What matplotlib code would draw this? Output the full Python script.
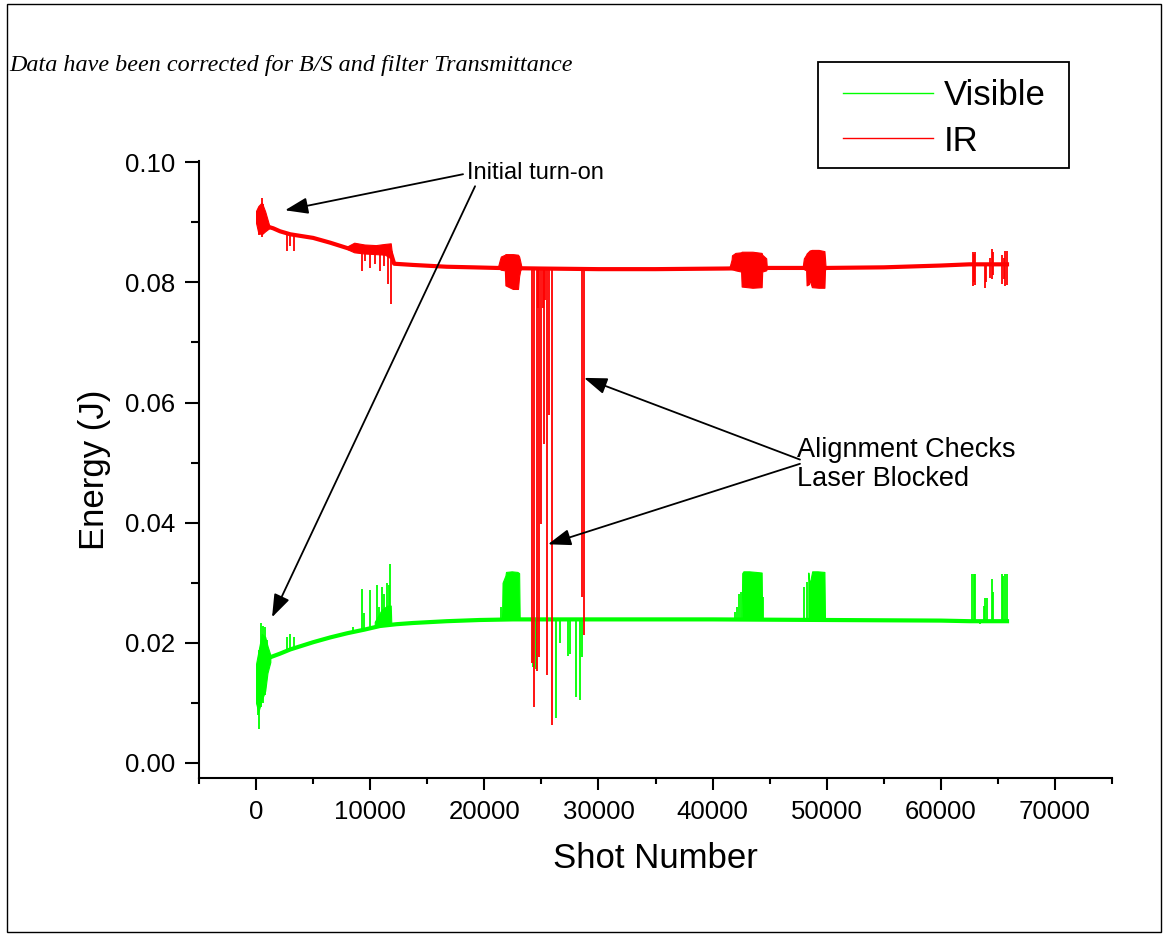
import matplotlib
matplotlib.use('Agg')
import matplotlib.pyplot as plt
from matplotlib.lines import Line2D
from matplotlib.patches import Rectangle
from matplotlib.patches import ArrowStyle
from matplotlib.ticker import MultipleLocator, FormatStrFormatter

# ---------------- data ----------------
# IR (red) baseline trend
ir_trend_shot = [1150, 1500, 2100, 3000, 4000, 5000, 6500, 8000, 9500, 11000, 11800,
                 12100, 13750, 16700, 19000, 21100, 25000, 30000, 35000, 41000,
                 45000, 50000, 55000, 60000, 62500, 65800]
ir_trend_energy = [0.0892, 0.0890, 0.0885, 0.0880, 0.0877, 0.0874, 0.0866, 0.0857, 0.0853,
                   0.0851, 0.0850, 0.0831, 0.0829, 0.0826, 0.0825, 0.0824, 0.0823, 0.0822,
                   0.0822, 0.0823, 0.0824, 0.0824, 0.0825, 0.0828, 0.0830, 0.0830]

# IR noisy bursts: shot, lower envelope, upper envelope
ir_b0_shot = [0, 200, 500, 800, 1150]
ir_b0_lo = [0.0899, 0.0882, 0.0880, 0.0885, 0.0890]
ir_b0_hi = [0.0919, 0.0927, 0.0933, 0.0918, 0.0895]

ir_b1_shot = [8000, 8600, 9500, 10500, 11300, 11800, 12000]
ir_b1_lo = [0.0855, 0.0850, 0.0848, 0.0847, 0.0846, 0.0840, 0.0831]
ir_b1_hi = [0.0860, 0.0866, 0.0863, 0.0862, 0.0864, 0.0865, 0.0833]

ir_b2_shot = [21200, 21370, 21450, 21800, 21850, 22500, 22950, 23050, 23150, 23250]
ir_b2_lo = [0.0823, 0.0822, 0.0821, 0.0820, 0.0795, 0.0789, 0.0789, 0.0810, 0.0820, 0.0823]
ir_b2_hi = [0.0826, 0.0838, 0.0843, 0.0846, 0.0847, 0.0847, 0.0846, 0.0843, 0.0835, 0.0826]

ir_b3_shot = [41500, 41670, 41700, 42000, 42500, 42550, 43500, 44300, 44350, 44700, 44750]
ir_b3_lo = [0.0823, 0.0822, 0.0822, 0.0820, 0.0818, 0.0793, 0.0791, 0.0792, 0.0818, 0.0820, 0.0823]
ir_b3_hi = [0.0826, 0.0838, 0.0845, 0.0849, 0.0850, 0.0851, 0.0851, 0.0849, 0.0846, 0.0840, 0.0826]

ir_b4_shot = [47900, 48000, 48200, 48240, 48450, 48500, 48700, 49300, 49800, 49850, 49900]
ir_b4_lo = [0.0823, 0.0822, 0.0820, 0.0795, 0.0797, 0.0805, 0.0792, 0.0791, 0.0791, 0.0820, 0.0823]
ir_b4_hi = [0.0826, 0.0840, 0.0846, 0.0848, 0.0852, 0.0853, 0.0854, 0.0854, 0.0852, 0.0840, 0.0826]

# IR single spikes / dropouts: shot, low, high
ir_spike_shot = [300, 500, 650, 2700, 2950, 3350,
                 9260, 9550, 10000, 10420, 10860, 11210, 11590, 11800,
                 24210, 24380, 24590, 24700, 24820, 24950, 25100, 25260, 25350, 25460, 25700, 25960,
                 28530, 28730,
                 62780, 62900, 62990, 63850, 63950, 64300, 64450, 64530, 65350, 65500, 65650, 65760]
ir_spike_lo = [0.0878, 0.0875, 0.0880, 0.0852, 0.0860, 0.0852,
               0.0819, 0.0836, 0.0824, 0.0830, 0.0819, 0.0827, 0.0797, 0.0764,
               0.0166, 0.0093, 0.0153, 0.0757, 0.0177, 0.0398, 0.0757, 0.0531, 0.0770, 0.0147, 0.0580, 0.0063,
               0.0276, 0.0213,
               0.0794, 0.0800, 0.0796, 0.0791, 0.0800, 0.0808, 0.0805, 0.0812, 0.0798, 0.0805, 0.0794, 0.0796]
ir_spike_hi = [0.0925, 0.0940, 0.0930, 0.0882, 0.0882, 0.0880,
               0.0855, 0.0855, 0.0853, 0.0852, 0.0852, 0.0852, 0.0852, 0.0852,
               0.0822, 0.0822, 0.0822, 0.0822, 0.0822, 0.0822, 0.0822, 0.0822, 0.0822, 0.0822, 0.0822, 0.0822,
               0.0822, 0.0822,
               0.0851, 0.0848, 0.0850, 0.0830, 0.0830, 0.0840, 0.0855, 0.0850, 0.0845, 0.0840, 0.0852, 0.0852]

# Visible (green) baseline trend
vis_trend_shot = [1250, 2100, 3000, 4000, 5000, 6500, 8000, 9500, 10860, 12300, 13750,
                  16700, 19600, 22500, 30000, 40000, 50000, 60000, 62500, 65800]
vis_trend_energy = [0.0176, 0.0182, 0.0189, 0.0195, 0.0201, 0.0209, 0.0216, 0.0222, 0.0228,
                    0.0231, 0.0233, 0.0236, 0.0238, 0.0239, 0.0239, 0.0239, 0.0238, 0.0237,
                    0.0236, 0.0236]

# Visible noisy bursts
vis_b0_shot = [0, 200, 500, 800, 1000, 1250]
vis_b0_lo = [0.0100, 0.0085, 0.0105, 0.0120, 0.0150, 0.0168]
vis_b0_hi = [0.0165, 0.0185, 0.0215, 0.0210, 0.0195, 0.0180]

vis_b1_shot = [10400, 11000, 11500, 11800, 11850]
vis_b1_lo = [0.0227, 0.0228, 0.0229, 0.0230, 0.0230]
vis_b1_hi = [0.0235, 0.0255, 0.0262, 0.0262, 0.0232]

vis_b2_shot = [21550, 21600, 21850, 21900, 22400, 22900, 23050, 23100]
vis_b2_lo = [0.0239, 0.0239, 0.0239, 0.0239, 0.0239, 0.0239, 0.0239, 0.0239]
vis_b2_hi = [0.0240, 0.0300, 0.0312, 0.0318, 0.0319, 0.0318, 0.0316, 0.0240]

vis_b3_shot = [42550, 42600, 42700, 43200, 43800, 44300, 44350]
vis_b3_lo = [0.0239, 0.0239, 0.0239, 0.0239, 0.0239, 0.0239, 0.0239]
vis_b3_hi = [0.0240, 0.0316, 0.0319, 0.0319, 0.0318, 0.0317, 0.0240]

vis_b4_shot = [48390, 48450, 48530, 48730, 49200, 49800, 49850]
vis_b4_lo = [0.0239, 0.0239, 0.0239, 0.0239, 0.0239, 0.0239, 0.0239]
vis_b4_hi = [0.0317, 0.0305, 0.0300, 0.0319, 0.0319, 0.0318, 0.0240]

vis_spike_shot = [150, 250, 450, 600, 800, 1000,
                  2690, 2980, 3360,
                  8530, 9260, 9460, 9990, 10570, 10770, 11010, 11210, 11450, 11620, 11740,
                  21460,
                  24300, 24530, 26280, 26630, 27360, 27500, 28000, 28380, 28590,
                  41960, 42110, 42340, 42460, 44440,
                  48000, 48240,
                  62750, 62870, 62990, 63400, 63800, 63900, 64060, 64450, 64530,
                  65320, 65450, 65600, 65760]
vis_spike_lo = [0.0080, 0.0056, 0.0094, 0.0100, 0.0113, 0.0149,
                0.0188, 0.0189, 0.0190,
                0.0218, 0.0222, 0.0222, 0.0225, 0.0227, 0.0227, 0.0228, 0.0229, 0.0229, 0.0230, 0.0230,
                0.0239,
                0.0160, 0.0156, 0.0075, 0.0200, 0.0178, 0.0182, 0.0110, 0.0105, 0.0177,
                0.0239, 0.0239, 0.0239, 0.0239, 0.0239,
                0.0239, 0.0239,
                0.0236, 0.0236, 0.0236, 0.0232, 0.0236, 0.0234, 0.0236, 0.0236, 0.0236,
                0.0236, 0.0236, 0.0236, 0.0236]
vis_spike_hi = [0.0170, 0.0188, 0.0233, 0.0228, 0.0226, 0.0204,
                0.0209, 0.0214, 0.0210,
                0.0226, 0.0290, 0.0250, 0.0288, 0.0296, 0.0260, 0.0293, 0.0282, 0.0300, 0.0296, 0.0331,
                0.0260,
                0.0239, 0.0239, 0.0239, 0.0239, 0.0239, 0.0239, 0.0239, 0.0239, 0.0239,
                0.0251, 0.0260, 0.0282, 0.0285, 0.0277,
                0.0293, 0.0301,
                0.0314, 0.0314, 0.0314, 0.0236, 0.0262, 0.0274, 0.0274, 0.0307, 0.0285,
                0.0315, 0.0312, 0.0315, 0.0315]

x_ticks = [0, 10000, 20000, 30000, 40000, 50000, 60000, 70000]
y_ticks = [0.00, 0.02, 0.04, 0.06, 0.08, 0.10]

# ---------------- figure ----------------
plt.rcParams['font.family'] = ['Liberation Sans', 'DejaVu Sans']
W, H = 1163, 934
fig = plt.figure(figsize=(W / 100, H / 100), dpi=100)
ax = fig.add_axes([199 / W, 1 - 778 / H, (1112 - 199) / W, (778 - 161) / H])

RED = '#ff0000'
GREEN = '#00ff00'

# Visible
ax.plot(vis_trend_shot, vis_trend_energy, color=GREEN, lw=3.0, zorder=2)
for xs, lo, hi in [(vis_b0_shot, vis_b0_lo, vis_b0_hi), (vis_b1_shot, vis_b1_lo, vis_b1_hi),
                   (vis_b2_shot, vis_b2_lo, vis_b2_hi), (vis_b3_shot, vis_b3_lo, vis_b3_hi),
                   (vis_b4_shot, vis_b4_lo, vis_b4_hi)]:
    ax.fill_between(xs, lo, hi, facecolor=GREEN, edgecolor=GREEN, lw=0.8, zorder=2)
ax.vlines(vis_spike_shot, vis_spike_lo, vis_spike_hi, color=GREEN, lw=1.3, zorder=2)

# IR
ax.plot(ir_trend_shot, ir_trend_energy, color=RED, lw=3.0, zorder=3)
for xs, lo, hi in [(ir_b0_shot, ir_b0_lo, ir_b0_hi), (ir_b1_shot, ir_b1_lo, ir_b1_hi),
                   (ir_b2_shot, ir_b2_lo, ir_b2_hi), (ir_b3_shot, ir_b3_lo, ir_b3_hi),
                   (ir_b4_shot, ir_b4_lo, ir_b4_hi)]:
    ax.fill_between(xs, lo, hi, facecolor=RED, edgecolor=RED, lw=0.8, zorder=3)
ax.vlines(ir_spike_shot, ir_spike_lo, ir_spike_hi, color=RED, lw=1.3, zorder=3)

# axes styling
ax.set_xlim(-5000, 75000)
ax.set_ylim(-0.0025, 0.1002)
ax.spines['top'].set_visible(False)
ax.spines['right'].set_visible(False)
for s in ('left', 'bottom'):
    ax.spines[s].set_linewidth(1.5)
ax.set_xticks(x_ticks)
ax.set_yticks(y_ticks)
ax.xaxis.set_minor_locator(MultipleLocator(5000))
ax.yaxis.set_minor_locator(MultipleLocator(0.01))
ax.xaxis.set_major_formatter(FormatStrFormatter('%d'))
ax.yaxis.set_major_formatter(FormatStrFormatter('%.2f'))
ax.tick_params(axis='both', which='both', direction='out', width=1.5, labelsize=18.5, pad=7)
ax.tick_params(axis='x', which='major', length=8.5)
ax.tick_params(axis='x', which='minor', length=4)
ax.tick_params(axis='y', which='major', length=10)
ax.tick_params(axis='y', which='minor', length=5.8)
ax.set_xlabel('Shot Number', fontsize=25, labelpad=13)
ax.set_ylabel('Energy (J)', fontsize=25, labelpad=10)

# legend (frame drawn separately to match the box proportions)
handles = [Line2D([], [], color=GREEN, lw=1.0), Line2D([], [], color=RED, lw=1.0)]
leg = ax.legend(handles, ['Visible', 'IR'], loc='center left',
                bbox_to_anchor=(843 / W, 1 - 118.5 / H), bbox_transform=fig.transFigure,
                fontsize=25, frameon=False, handlelength=2.6, handletextpad=0.29,
                borderpad=0, labelspacing=0.35, borderaxespad=0)
fig.patches.append(Rectangle((818 / W, 1 - 168 / H), (1069 - 818) / W, (168 - 62) / H,
                             transform=fig.transFigure, fill=False, lw=1.3, ec='k'))

# annotations
style = ArrowStyle('-|>', head_length=0.7, head_width=0.25)
arrows = [((18135, 0.0980), (2540, 0.0920)),
          ((19190, 0.0960), (1400, 0.02425)),
          ((47660, 0.0505), (28740, 0.0641)),
          ((47660, 0.0498), (25580, 0.0364))]
for start, tip in arrows:
    ax.annotate('', xy=tip, xytext=start,
                arrowprops=dict(arrowstyle=style, color='k', lw=1.3, mutation_scale=20,
                                shrinkA=0, shrinkB=0), zorder=5)
ax.text(18490, 0.0982, 'Initial turn-on', fontsize=17, va='center', ha='left', zorder=6)
ax.text(47400, 0.0497, 'Alignment Checks\nLaser Blocked', fontsize=19.5, va='center', ha='left',
        linespacing=1.12, zorder=6)

# note and frame
fig.text(9 / W, 1 - 65 / H, 'Data have been corrected for B/S and filter Transmittance',
         fontsize=17.4, style='italic', family=['Liberation Serif', 'DejaVu Serif'],
         va='center', ha='left')
fig.patches.append(Rectangle((7 / W, 1 - 932 / H), (1161 - 7) / W, (932 - 4) / H,
                             transform=fig.transFigure, fill=False, lw=1.0, ec='k'))

fig.savefig('out.png', dpi=100)
